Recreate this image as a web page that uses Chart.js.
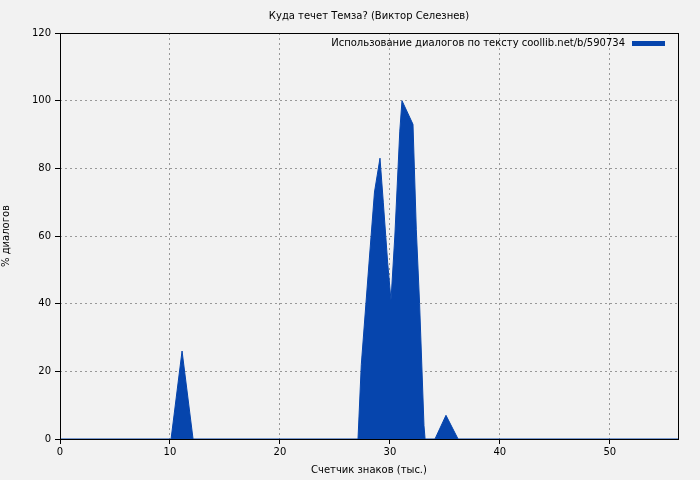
<!DOCTYPE html>
<html>
<head>
<meta charset="utf-8">
<script src="https://cdn.jsdelivr.net/npm/chart.js@4/dist/chart.umd.min.js"></script>
<style>
  html, body { margin: 0; padding: 0; background: #f2f2f2; }
  #wrap { width: 700px; height: 480px; }
</style>
</head>
<body>
<div id="wrap"><canvas id="chart" width="700" height="480"></canvas></div>
<script>
// key points of the filled curve (thousands of chars, % dialogs)
const xs = [0, 10.1, 11.1, 12.1, 27.1, 27.4, 28.1, 28.6, 29.1, 29.4, 29.8, 30.1, 30.45, 30.9, 31.1, 32.1, 32.4, 32.7, 33.1, 33.2, 34.1, 35.1, 36.2, 56.2];
const ys = [0, 0, 26, 0, 0, 22, 52, 73, 83, 70, 52, 41, 60, 91, 100, 93, 62, 40, 4, 0, 0, 7, 0, 0];
const xTicks = [0, 10, 20, 30, 40, 50];
const yTicks = [0, 20, 40, 60, 80, 100, 120];

const chartTitle = 'Куда течет Темза? (Виктор Селезнев)';
const seriesLabel = 'Использование диалогов по тексту coollib.net/b/590734';
const xTitle = 'Счетчик знаков (тыс.)';
const yTitle = '% диалогов';

const blue = '#0645ad';
const font = { family: 'DejaVu Sans', size: 10 };

const overlay = {
    id: 'overlay',
    afterDraw(chart) {
        const ctx = chart.ctx;
        const area = chart.chartArea;
        ctx.save();
        ctx.fillStyle = '#000';
        ctx.font = '10px "DejaVu Sans"';
        ctx.textAlign = 'center';
        ctx.textBaseline = 'middle';
        ctx.fillText(chartTitle, (area.left + area.right) / 2, 16);
        ctx.textAlign = 'right';
        ctx.fillText(seriesLabel, area.right - 53, 43);
        ctx.fillStyle = blue;
        ctx.fillRect(area.right - 46, 41, 33, 5);
        ctx.strokeStyle = '#000';
        ctx.lineWidth = 1;
        ctx.strokeRect(area.left + 0.5, area.top + 0.5, area.right - area.left, area.bottom - area.top);
        ctx.restore();
    }
};

new Chart(document.getElementById('chart'), {
    type: 'line',
    data: {
        datasets: [{
            label: seriesLabel,
            data: xs.map((x, i) => ({ x: x, y: ys[i] })),
            borderColor: blue,
            backgroundColor: blue,
            borderWidth: 1,
            fill: 'origin',
            tension: 0,
            pointRadius: 0
        }]
    },
    options: {
        responsive: false,
        animation: false,
        layout: { padding: { top: 33, right: 22, left: 0, bottom: 4 } },
        plugins: { legend: { display: false }, title: { display: false }, tooltip: { enabled: false } },
        scales: {
            x: {
                type: 'linear', min: 0, max: 56.2,
                afterBuildTicks: s => { s.ticks = xTicks.map(v => ({ value: v })); },
                afterFit: s => { s.height = 37; },
                grid: { color: '#999', tickLength: 5, drawTicks: true, tickColor: '#000' },
                border: { display: false, dash: [2, 3] },
                ticks: { color: '#000', font: font, maxRotation: 0, padding: 2 },
                title: { display: true, text: xTitle, color: '#000', font: font, padding: 0 }
            },
            y: {
                min: 0, max: 120,
                afterBuildTicks: s => { s.ticks = yTicks.map(v => ({ value: v })); },
                afterFit: s => { s.width = 60; },
                grid: { color: '#999', tickLength: 5, tickColor: '#000' },
                border: { display: false, dash: [2, 3] },
                ticks: { color: '#000', font: font, padding: 4 },
                title: { display: true, text: yTitle, color: '#000', font: font, padding: 0 }
            }
        }
    },
    plugins: [overlay]
});
</script>
</body>
</html>
